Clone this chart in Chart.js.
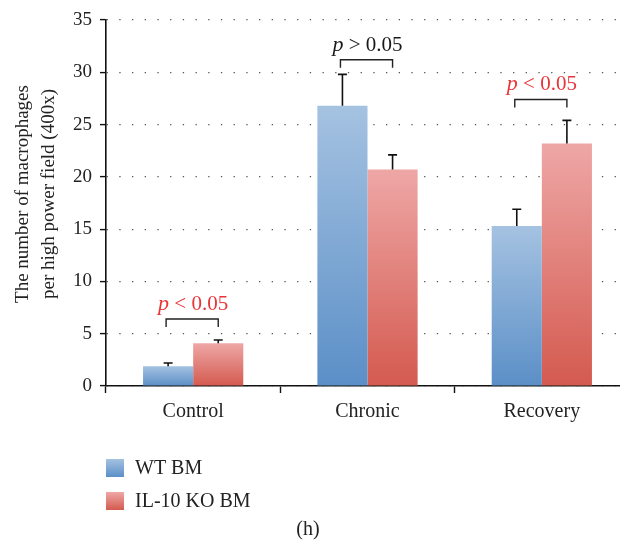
<!DOCTYPE html>
<html>
<head>
<meta charset="utf-8">
<script src="https://cdn.jsdelivr.net/npm/chart.js@4"></script>
<style>
  html, body { margin: 0; padding: 0; background: #fff; overflow: hidden; }
  canvas { display: block; }
</style>
</head>
<body>
<canvas id="grafico" width="632" height="547"></canvas>
<script>
// datos
const categorias = ['Control', 'Chronic', 'Recovery'];
const wtMedias = [1.9, 26.8, 15.3];
const wtError = [0.3, 3.0, 1.6];
const koMedias = [4.1, 20.7, 23.2];
const koError = [0.3, 1.4, 2.2];
const yTicks = [0, 5, 10, 15, 20, 25, 30, 35];

// comparaciones (p)
const pSignos = ['<', '>', '<'];
const pColores = ['#e8353a', '#1a1a1a', '#e8353a'];
const pCorchete = [6.4, 31.2, 27.4];

const serif = '"Liberation Serif", "DejaVu Serif", serif';

function gradiente(ctx, top, bottom, cTop, cBottom) {
    const g = ctx.createLinearGradient(0, top, 0, bottom);
    g.addColorStop(0, cTop);
    g.addColorStop(1, cBottom);
    return g;
}

function colorBarra(cTop, cBottom) {
    return function (context) {
        const chart = context.chart;
        if (!chart.chartArea || !chart.scales.y) return cBottom;
        const v = context.raw;
        const y = chart.scales.y;
        return gradiente(chart.ctx, y.getPixelForValue(v), y.getPixelForValue(0), cTop, cBottom);
    };
}

// barras de error, corchetes, leyenda y titulos
const extras = {
    id: 'extras',
    afterDatasetsDraw(chart) {
        const ctx = chart.ctx;
        const y = chart.scales.y;
        const m0 = chart.getDatasetMeta(0).data;
        const m1 = chart.getDatasetMeta(1).data;

        ctx.save();
        ctx.strokeStyle = '#111';
        ctx.lineWidth = 1.6;
        const errores = [[wtMedias, wtError, m0], [koMedias, koError, m1]];
        errores.forEach(([medias, err, meta]) => {
            medias.forEach((v, i) => {
                const x = meta[i].x;
                const yt = y.getPixelForValue(v + err[i]);
                ctx.beginPath();
                ctx.moveTo(x, y.getPixelForValue(v));
                ctx.lineTo(x, yt);
                ctx.moveTo(x - 4.5, yt);
                ctx.lineTo(x + 4.5, yt);
                ctx.stroke();
            });
        });

        // corchetes
        categorias.forEach((c, i) => {
            const x1 = m0[i].x - 2;
            const x2 = m1[i].x;
            const yb = y.getPixelForValue(pCorchete[i]);
            ctx.strokeStyle = '#222';
            ctx.lineWidth = 1.4;
            ctx.beginPath();
            ctx.moveTo(x1, yb + 8);
            ctx.lineTo(x1, yb);
            ctx.lineTo(x2, yb);
            ctx.lineTo(x2, yb + 8);
            ctx.stroke();

            const pFont = 'italic 22px ' + serif;
            const rFont = '21px ' + serif;
            const resto = ' ' + pSignos[i] + ' 0.05';
            ctx.font = pFont;
            const w1 = ctx.measureText('p').width;
            ctx.font = rFont;
            const w2 = ctx.measureText(resto).width;
            const cx = (x1 + x2) / 2 + 1;
            const sx = cx - (w1 + w2) / 2;
            const by = yb - 9;
            ctx.fillStyle = pColores[i];
            ctx.textBaseline = 'alphabetic';
            ctx.textAlign = 'left';
            ctx.font = pFont;
            ctx.fillText('p', sx, by);
            ctx.font = rFont;
            ctx.fillText(resto, sx + w1, by);
        });

        // titulo eje y
        ctx.fillStyle = '#222';
        ctx.font = '19px ' + serif;
        ctx.textAlign = 'center';
        ctx.textBaseline = 'middle';
        const cy = 194;
        ctx.save();
        ctx.translate(23, cy);
        ctx.rotate(-Math.PI / 2);
        ctx.fillText('The number of macrophages', 0, 0);
        ctx.restore();
        ctx.save();
        ctx.translate(49, cy);
        ctx.rotate(-Math.PI / 2);
        ctx.fillText('per high power field (400x)', 0, 0);
        ctx.restore();

        // leyenda
        const items = [
            ['WT BM', '#a5c2e1', '#5b8fc7', 459],
            ['IL-10 KO BM', '#eea7a6', '#d45a4f', 492]
        ];
        items.forEach(([txt, c1, c2, top]) => {
            ctx.fillStyle = gradiente(ctx, top, top + 18, c1, c2);
            ctx.fillRect(106, top, 18, 18);
            ctx.fillStyle = '#222';
            ctx.font = '20px ' + serif;
            ctx.textAlign = 'left';
            ctx.textBaseline = 'middle';
            ctx.fillText(txt, 135, top + 10);
        });

        ctx.textAlign = 'center';
        ctx.fillText('(h)', 308, 530);
        ctx.restore();
    }
};

const ctx = document.getElementById('grafico').getContext('2d');
new Chart(ctx, {
    type: 'bar',
    data: {
        labels: categorias,
        datasets: [
            {
                label: 'WT BM',
                data: wtMedias,
                backgroundColor: colorBarra('#a5c2e1', '#5b8fc7'),
                borderWidth: 0,
                barPercentage: 1,
                categoryPercentage: 0.575
            },
            {
                label: 'IL-10 KO BM',
                data: koMedias,
                backgroundColor: colorBarra('#eea7a6', '#d45a4f'),
                borderWidth: 0,
                barPercentage: 1,
                categoryPercentage: 0.575
            }
        ]
    },
    options: {
        responsive: false,
        animation: false,
        devicePixelRatio: 1,
        layout: { padding: { top: 20, right: 3, left: 0, bottom: 0 } },
        plugins: {
            legend: { display: false },
            tooltip: { enabled: false }
        },
        scales: {
            x: {
                afterFit: s => { s.height = 161; },
                grid: {
                    offset: true,
                    drawOnChartArea: false,
                    drawTicks: true,
                    tickLength: 7,
                    tickColor: '#111',
                    tickWidth: 1.4
                },
                border: { display: true, color: '#111', width: 1.6 },
                ticks: {
                    color: '#222',
                    padding: 7,
                    maxRotation: 0,
                    autoSkip: false,
                    font: { family: serif, size: 20 }
                }
            },
            y: {
                min: 0,
                max: 35,
                afterFit: s => { s.width = 106; },
                afterBuildTicks: s => { s.ticks = yTicks.map(v => ({ value: v })); },
                grid: {
                    color: '#555',
                    lineWidth: 1.2,
                    drawTicks: true,
                    tickLength: 6,
                    tickColor: '#111',
                    tickWidth: 1.4,
                    tickBorderDash: []
                },
                border: { display: true, color: '#111', width: 1.6, dash: [1.3, 11.4] },
                ticks: {
                    color: '#222',
                    padding: 8,
                    font: { family: serif, size: 19 }
                }
            }
        }
    },
    plugins: [extras]
});
</script>
</body>
</html>
